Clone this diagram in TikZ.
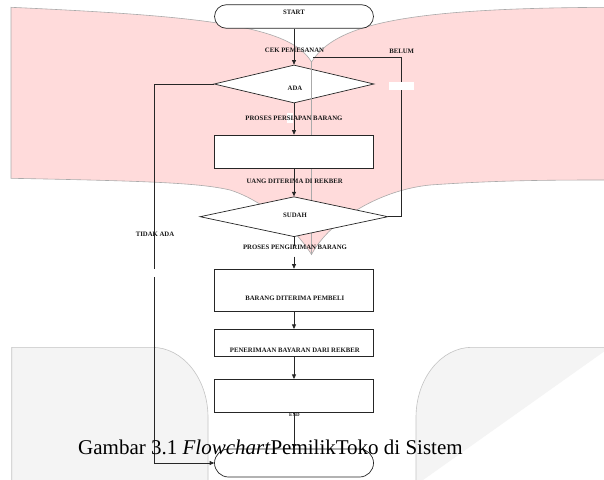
\documentclass[tikz,border=0pt]{standalone}
\usepackage{fontspec}
\setmainfont{Liberation Serif}
\usetikzlibrary{shapes.geometric,arrows.meta}
\definecolor{pinkbg}{RGB}{255,219,219}
\definecolor{panelbg}{RGB}{244,244,244}
\definecolor{paneledge}{RGB}{196,196,196}
\definecolor{pinkedge}{RGB}{170,170,170}
\begin{document}
\begin{tikzpicture}[x=1pt,y=-1pt,
  box/.style={draw=black!85,line width=0.7pt,fill=white,minimum width=159pt,inner sep=0pt},
  term/.style={box,rounded corners=12pt},
  decision/.style={draw=black!85,line width=0.7pt,fill=white,diamond,inner sep=0pt},
  lbl/.style={font=\bfseries\fontsize{6.75}{8}\selectfont,inner sep=0pt,text=black!90},
  flow/.style={draw=black!85,line width=0.7pt},
  arr/.style={flow,-{Triangle[length=4.5pt,width=4pt]}},
  edgeline/.style={draw=pinkedge,line width=0.6pt},
]
\useasboundingbox (0,0) rectangle (604,479);
\fill[white] (0,0) rectangle (604,479);
% pink banner
\path[fill=pinkbg,edgeline] (11,7.3) .. controls (200,16) and (290,25) .. (311.5,62)
  .. controls (335,25) and (400,8) .. (610,7.3) -- (610,180)
  .. controls (560,180) and (500,180) .. (430,185)
  .. controls (380,190) and (330,220) .. (311.5,254.5)
  .. controls (295,228) and (262,200) .. (230,190)
  .. controls (200,183) and (150,181) .. (11,178.3) -- cycle;
% grey panels
\path[fill=panelbg,draw=paneledge,line width=0.6pt] (11.7,485) -- (11.7,347.3) -- (152,347.3)
  arc[start angle=-90,end angle=0,x radius=56,y radius=70] -- (208,485);
\path[fill=panelbg,draw=paneledge,line width=0.6pt] (610,347.3) -- (472,347.3)
  arc[start angle=-90,end angle=-180,x radius=56,y radius=70] -- (416,485);
% nodes
\node[decision,minimum width=160pt,minimum height=38pt] (ada) at (294,84) {};
\path[edgeline] (311.5,62) -- (311.5,254.5);
\node[term,minimum height=23.6pt] (start) at (294,16.5) {};
\node[box,minimum height=33.3pt] (b1) at (294,151.7) {};
\node[decision,minimum width=188pt,minimum height=40pt] (sudah) at (294,216.7) {};
\node[box,minimum height=42pt] (b2) at (294,290) {};
\node[box,minimum height=27.4pt] (b3) at (294,343) {};
\node[box,minimum height=33.4pt] (b4) at (294,396) {};
\node[term,minimum height=28pt,rounded corners=14pt] (endt) at (294,463) {};
% white patch
\fill[white] (286.5,113) rectangle (293.3,123);
% connectors
\draw[arr] (start.south) -- (ada.north);
\draw[arr] (ada.south) -- (b1.north);
\draw[arr] (b1.south) -- (sudah.north);
\coordinate (p1) at (294,246);
\coordinate (p2) at (294,256.7);
\draw[flow] (sudah.south) -- (p1);
\draw[arr] (p2) -- (b2.north);
\draw[arr] (b2.south) -- (b3.north);
\draw[arr] (b3.south) -- (b4.north);
\draw[arr] (b4.south) -- (endt.north);
\coordinate (lt) at (401.7,57.3);
\coordinate (le) at (312.7,57.3);
\draw[flow] (sudah.east) -| (lt) -- (le);
\coordinate (ga) at (154,269.3);
\coordinate (gb) at (154,277.3);
\draw[flow] (ada.west) -| (ga);
\draw[arr] (gb) |- (endt.west);
\fill[white] (389.3,82.3) rectangle (414.3,90);
% labels
\node[lbl] (tstart) at (294,12.7) {START};
\node[lbl] (tcek) at (294.5,50.5) {CEK PEMESANAN};
\node[lbl] (tbelum) at (401.7,51.7) {BELUM};
\node[lbl] (tada) at (295,88) {ADA};
\node[lbl] (tpers) at (294,118) {PROSES PERSIAPAN BARANG};
\node[lbl] (tuang) at (294.7,181.7) {UANG DITERIMA DI REKBER};
\node[lbl] (tsudah) at (295,215.7) {SUDAH};
\node[lbl] (ttidak) at (155,234) {TIDAK ADA};
\node[lbl] (tkirim) at (295,247.7) {PROSES PENGIRIMAN BARANG};
\node[lbl] (tterima) at (294.8,298.3) {BARANG DITERIMA PEMBELI};
\node[lbl] (tbayar) at (294.8,350) {PENERIMAAN BAYARAN DARI REKBER};
\node[lbl,font=\bfseries\fontsize{5}{6}\selectfont] (tend) at (294.5,415) {END};
% caption
\node[anchor=base west,inner sep=0pt,font=\fontsize{21}{25}\selectfont] (cap) at (78,454)
  {Gambar 3.1 \textit{Flowchart}PemilikToko di Sistem};
\end{tikzpicture}
\end{document}
